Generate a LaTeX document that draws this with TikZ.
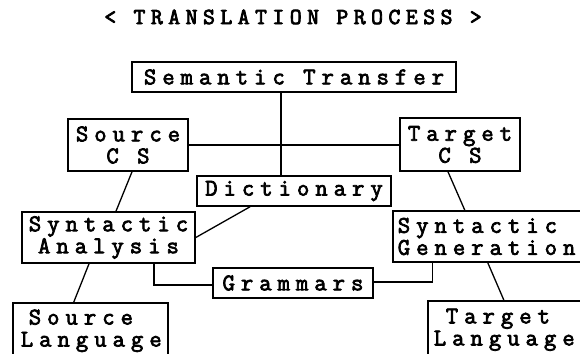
\documentclass[tikz,border=0pt]{standalone}
\usepackage{fontspec}
% typewriter face, widely spaced and emboldened
\newfontfamily\boxfont{Latin Modern Mono}[LetterSpace=25,FakeBold=3]
\newfontfamily\headfont{Latin Modern Mono}[LetterSpace=24,FakeBold=3.5]
\begin{document}
\begin{tikzpicture}[x=1pt,y=-1pt,
  box/.style={draw,line width=1.6pt,inner sep=0pt,
    font=\boxfont\fontsize{24}{22}\selectfont},
  link/.style={line width=1.3pt}]
\useasboundingbox (0,0) rectangle (580,353);

% title
\node[font=\headfont\fontsize{23}{24}\selectfont] (title) at (293,17) {< TRANSLATION PROCESS >};

% boxes
\node[box,minimum width=324pt,minimum height=30pt] (sem) at (294,77) {Semantic Transfer};
\node[box,minimum width=120pt,minimum height=52pt,align=center] (srccs) at (128,145) {Source\\C S};
\node[box,minimum width=120pt,minimum height=53pt,align=center] (tgtcs) at (460,144.5) {Target\\C S};
\node[box,minimum width=194pt,minimum height=30pt] (dict) at (294,191) {Dictionary};
\node[box,minimum width=173pt,minimum height=51pt,align=center] (synan) at (108.5,237.5) {Syntactic\\Analysis};
\node[box,anchor=west,minimum height=51pt,inner xsep=5pt,text width=198pt,align=left] (syngen) at (392,236.5) {Syntactic\\Generation};
\node[box,minimum width=160pt,minimum height=30pt] (gram) at (293,283) {Grammars};
\node[box,anchor=north west,minimum height=56pt,inner xsep=8pt,text width=139pt,align=left] (srclang) at (12,302) {\hspace*{8pt}Source\\Language};
\node[box,anchor=north west,minimum height=58pt,inner xsep=6pt,text width=161pt,align=left] (tgtlang) at (427,300) {\hspace*{12pt}Target\\Language};

% connectors
\draw[link] ([xshift=-13pt]sem.south) -- ([xshift=-13pt]dict.north);
\draw[link] (srccs.east) -- (srccs.east -| tgtcs.west);
\draw[link] ([xshift=4pt]srccs.south) -- ([xshift=7.5pt]synan.north);
\draw[link] ([xshift=-12pt]tgtcs.south) -- ([xshift=-32pt]syngen.north);
\draw[link] ([xshift=-44pt]dict.south) -- (synan.east);
\draw[link] ([xshift=-19.5pt]synan.south) -- ([xshift=-16.5pt]srclang.north);
\draw[link] ([xshift=45.5pt]synan.south) |- ([yshift=-2pt]gram.west);
\draw[link] ([yshift=1pt]gram.east) -| ([xshift=-64pt]syngen.south);
\draw[link] ([xshift=-9pt]syngen.south) -- ([xshift=-10.5pt]tgtlang.north);
\end{tikzpicture}
\end{document}
